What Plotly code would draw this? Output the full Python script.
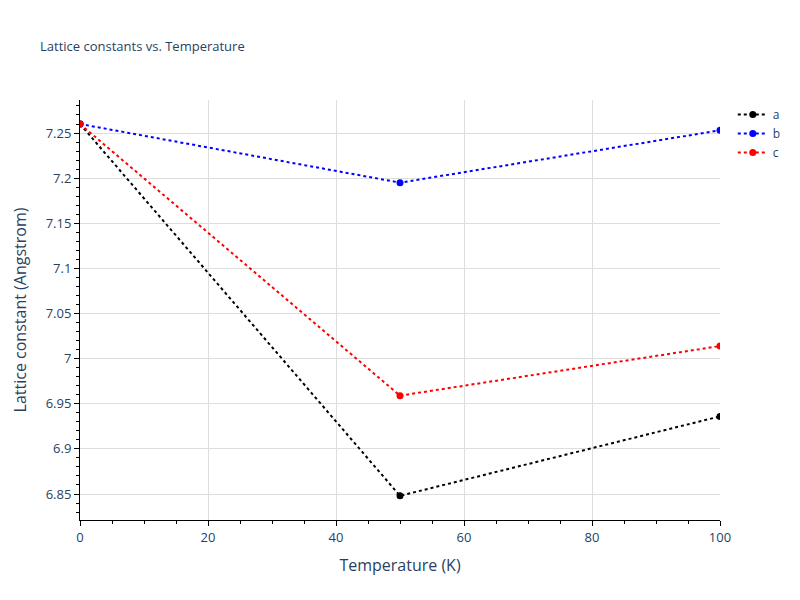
import plotly.graph_objects as go

temperature = [0, 50, 100]
a_values = [7.26, 6.848, 6.936]
b_values = [7.26, 7.195, 7.253]
c_values = [7.26, 6.959, 7.014]

series = [("a", a_values, "black"), ("b", b_values, "blue"), ("c", c_values, "red")]

fig = go.Figure()
for name, vals, color in series:
    fig.add_trace(go.Scatter(
        x=temperature, y=vals, name=name, mode="lines+markers",
        line=dict(color=color, dash="dot", width=2),
        marker=dict(color=color, size=7),
    ))

axis_common = dict(
    showline=True, linecolor="black", linewidth=1,
    ticks="outside", tickcolor="black", ticklen=5,
    showgrid=True, gridcolor="#dedede", gridwidth=1,
    zeroline=False,
    minor=dict(ticks="outside", ticklen=3, tickcolor="black", showgrid=False),
    title_font=dict(size=16),
    tickfont=dict(size=13),
)

fig.update_layout(
    template="plotly_white",
    width=800, height=600,
    title=dict(text="Lattice constants vs. Temperature", font=dict(size=13), x=0.05, y=0.93),
    margin=dict(l=80, r=80, t=100, b=80),
    xaxis=dict(title="Temperature (K)", range=[0, 100], dtick=20,
               minor_dtick=5, **axis_common),
    yaxis=dict(title="Lattice constant (Angstrom)", range=[6.8212, 7.2866], dtick=0.05,
               minor_dtick=0.01, **axis_common),
    legend=dict(x=1.02, y=1, font=dict(size=12)),
    plot_bgcolor="white",
)

fig.write_html("out.html", config={"displayModeBar": False},
               post_script="document.body.style.margin='0';")
